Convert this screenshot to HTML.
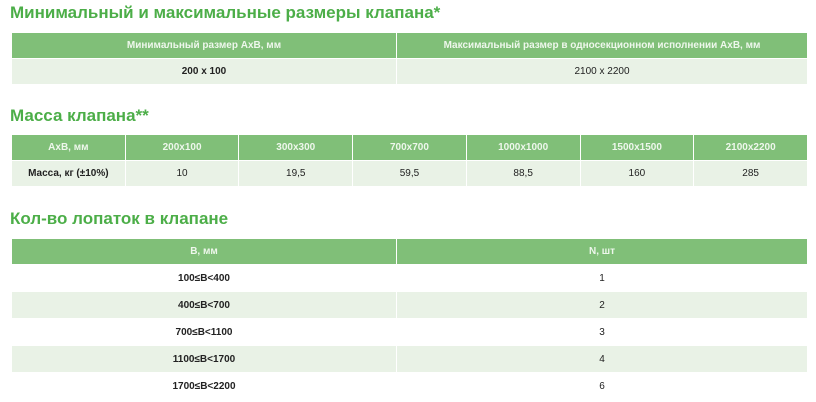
<!DOCTYPE html>
<html><head><meta charset="utf-8"><style>
body{margin:0;width:816px;height:402px;background:#fff;font-family:"Liberation Sans",sans-serif;position:relative;overflow:hidden}
.t{position:absolute;left:10px;color:#4cae48;font-weight:bold;font-size:17px;white-space:nowrap}
table{position:absolute;left:11px;width:797px;border-collapse:collapse;table-layout:fixed}
td{border:1.5px solid #fff;text-align:center;font-size:10px;padding:0;color:#222}
tr.h td{background:#80bf78;color:#eef7ec;font-weight:bold}
tr.g td{background:#e9f2e6}
tr.w td{background:#fff}
</style></head><body>
<div class="t" style="top:3px">Минимальный и максимальные размеры клапана*</div>
<table style="top:32px">
<col style="width:385px"><col>
<tr class="h" style="height:26px"><td>Минимальный размер АхВ, мм</td><td>Максимальный размер в односекционном исполнении АхВ, мм</td></tr>
<tr class="g" style="height:26px"><td style="font-weight:bold">200 х 100</td><td>2100 х 2200</td></tr>
</table>
<div class="t" style="top:106px">Масса клапана**</div>
<table style="top:134px">
<tr class="h" style="height:26px"><td>АхВ, мм</td><td>200х100</td><td>300х300</td><td>700х700</td><td>1000х1000</td><td>1500х1500</td><td>2100х2200</td></tr>
<tr class="g" style="height:26px"><td style="font-weight:bold">Масса, кг (±10%)</td><td>10</td><td>19,5</td><td>59,5</td><td>88,5</td><td>160</td><td>285</td></tr>
</table>
<div class="t" style="top:209px">Кол-во лопаток в клапане</div>
<table style="top:238px">
<col style="width:385px"><col>
<tr class="h" style="height:26px"><td>В, мм</td><td>N, шт</td></tr>
<tr class="w" style="height:27px"><td style="font-weight:bold">100≤B&lt;400</td><td>1</td></tr>
<tr class="g" style="height:27px"><td style="font-weight:bold">400≤B&lt;700</td><td>2</td></tr>
<tr class="w" style="height:27px"><td style="font-weight:bold">700≤B&lt;1100</td><td>3</td></tr>
<tr class="g" style="height:27px"><td style="font-weight:bold">1100≤B&lt;1700</td><td>4</td></tr>
<tr class="w" style="height:27px"><td style="font-weight:bold">1700≤B&lt;2200</td><td>6</td></tr>
</table>
</body></html>
